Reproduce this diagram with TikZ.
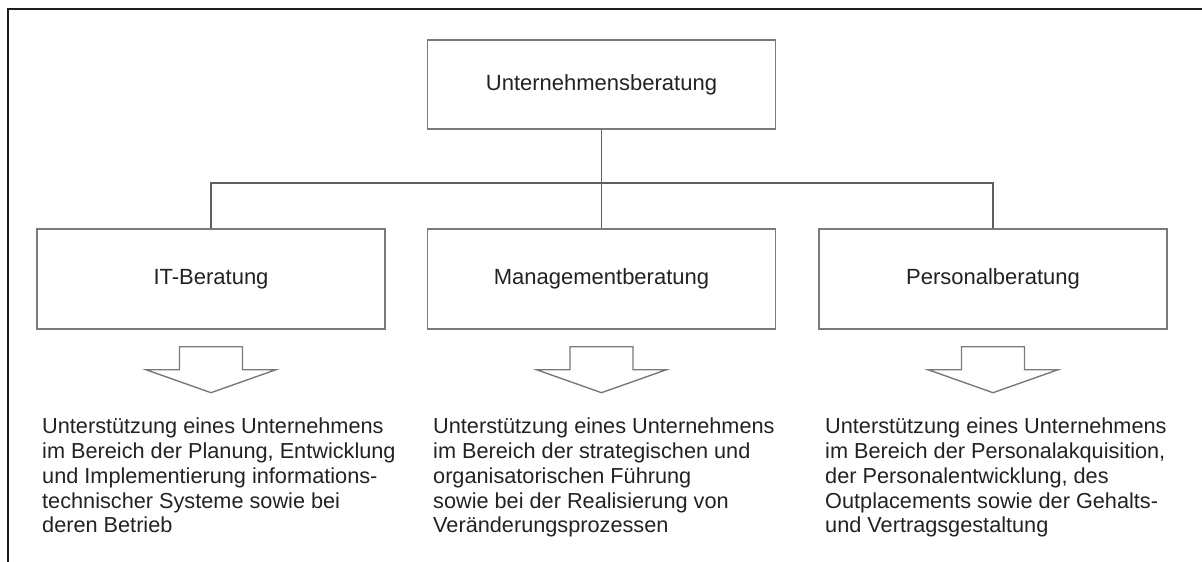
\documentclass[tikz,border=0pt]{standalone}
\usepackage{fontspec}
\setmainfont{Liberation Sans}
\definecolor{framecol}{HTML}{1E1E1E}
\definecolor{boxgray}{HTML}{7A7A7A}
\definecolor{linegray}{HTML}{5E5E5E}
\definecolor{textgray}{HTML}{222222}
\begin{document}
\begin{tikzpicture}[x=1pt,y=-1pt,
  box/.style={draw=boxgray, line width=1.4pt, minimum width=348pt,
    minimum height=100pt, inner sep=0pt, text=textgray,
    font=\fontsize{22}{24}\selectfont},
  desc/.style={anchor=north west, inner sep=0pt, align=left, text=textgray,
    font=\fontsize{21.7}{24.7}\selectfont},
  link/.style={draw=linegray, line width=1.4pt},
  hollow/.style={draw=boxgray, line width=1.4pt, line join=miter, fill=white}]
\useasboundingbox (0,0) rectangle (1202,562);

% outer frame (open to the right and bottom)
\draw[framecol, line width=2pt] (8,562) -- (8,9) -- (1202,9);

% boxes
\node[box, minimum height=89pt] (root) at (601.5,84.5) {Unternehmensberatung};
\node[box] (it)   at (211,279)   {IT-Beratung};
\node[box] (mg)   at (601.5,279) {Managementberatung};
\node[box] (pers) at (993,279)   {Personalberatung};

% tree connectors
\coordinate (bus) at (601.5,183);
\draw[link] (root.south) -- (bus) -- (mg.north);
\draw[link] (it.north) -- (it.north |- bus) -- (pers.north |- bus) -- (pers.north);

% hollow arrows below each box
\foreach \b in {it,mg,pers}{
  \draw[hollow, shift={(\b.south)}]
    (-31.5,17) -- (31.5,17) -- (31.5,40) -- (65,40) -- (0,63)
    -- (-65,40) -- (-31.5,40) -- cycle;
}

% descriptions
\node[desc] (itd) at (42,418) {Unterstützung eines Unternehmens\\
  im Bereich der Planung, Entwicklung\\
  und Implementierung informations-\\
  technischer Systeme sowie bei\\
  deren Betrieb};
\node[desc] (mgd) at (433,418) {Unterstützung eines Unternehmens\\
  im Bereich der strategischen und\\
  organisatorischen Führung\\
  sowie bei der Realisierung von\\
  Veränderungsprozessen};
\node[desc] (persd) at (825,418) {Unterstützung eines Unternehmens\\
  im Bereich der Personalakquisition,\\
  der Personalentwicklung, des\\
  Outplacements sowie der Gehalts-\\
  und Vertragsgestaltung};
\end{tikzpicture}
\end{document}
